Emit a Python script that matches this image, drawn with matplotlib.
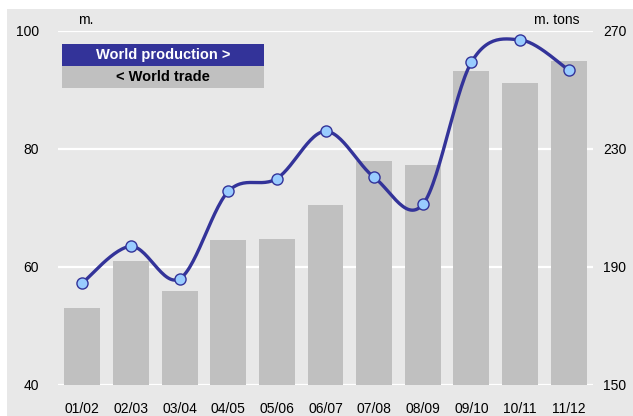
import numpy as np
import matplotlib
matplotlib.use("Agg")
import matplotlib.pyplot as plt
from matplotlib.patches import Rectangle

plt.rcParams['font.family'] = ['Liberation Sans', 'DejaVu Sans']

seasons = ["01/02", "02/03", "03/04", "04/05", "05/06", "06/07",
           "07/08", "08/09", "09/10", "10/11", "11/12"]
world_trade = [176, 192, 182, 199, 199.5, 211, 226, 224.5, 256.5, 252.5, 260]   # m. tons (right axis)
world_production = [57.3, 63.5, 58.0, 72.8, 75.0, 83.0, 75.2, 70.6, 94.7, 98.5, 93.4]  # m. (left axis)
left_ticks = [40, 60, 80, 100]
right_ticks = [150, 190, 230, 270]

W, H = 633, 416
fig = plt.figure(figsize=(W / 100, H / 100), dpi=100)
fig.patch.set_facecolor("white")
bg = "#E8E8E8"
fig.patches.append(Rectangle((7 / W, 0), 1 - 7 / W, 1 - 9 / H, transform=fig.transFigure,
                             facecolor=bg, edgecolor="none", zorder=-10))

left, right = 58 / W, 593 / W
bottom, top = (H - 385) / H, (H - 31) / H
ax = fig.add_axes([left, bottom, right - left, top - bottom])
ax.set_facecolor(bg)
x = np.arange(len(seasons))
ax.bar(x, [v - 150 for v in world_trade], bottom=150, width=0.74, color="#C0C0C0", zorder=2)
ax.set_xlim(-0.5, len(seasons) - 0.5)
ax.set_ylim(150, 270)
ax.set_yticks(right_ticks)
ax.grid(axis="y", color="white", linewidth=1.6, zorder=0)
ax.set_axisbelow(True)
ax.set_xticks(x)
ax.set_xticklabels(seasons)
for s in ax.spines.values():
    s.set_visible(False)

ax2 = ax.twinx()
ax2.set_ylim(40, 100)
ax2.set_yticks(left_ticks)
for s in ax2.spines.values():
    s.set_visible(False)

# bars axis -> right side labels, line axis -> left side labels
ax.yaxis.tick_right()
ax2.yaxis.tick_left()
ax.tick_params(axis="x", length=0, pad=12, labelsize=10, colors="black")
ax.tick_params(axis="y", which="both", length=0, pad=7.5, labelsize=10, colors="black",
               left=False, labelleft=False, right=True, labelright=True)
ax2.tick_params(axis="y", which="both", length=0, pad=13.5, labelsize=10, colors="black",
                left=True, labelleft=True, right=False, labelright=False)

# Smooth (Catmull-Rom) curve through the points, computed in display-proportional units
px = np.array(x, dtype=float) * 48.6
py = np.array(world_production, dtype=float) * 5.885
P = np.column_stack([px, py])
P_ext = np.vstack([P[0], P, P[-1]])
curve = []
for i in range(len(P) - 1):
    p0, p1, p2, p3 = P_ext[i], P_ext[i + 1], P_ext[i + 2], P_ext[i + 3]
    c1 = p1 + (p2 - p0) / 6
    c2 = p2 - (p3 - p1) / 6
    t = np.linspace(0, 1, 30)[:, None]
    seg = (1 - t) ** 3 * p1 + 3 * (1 - t) ** 2 * t * c1 + 3 * (1 - t) * t ** 2 * c2 + t ** 3 * p2
    curve.append(seg if i == 0 else seg[1:])
curve = np.vstack(curve)
ax2.plot(curve[:, 0] / 48.6, curve[:, 1] / 5.885, color="#333399", linewidth=2.4,
         solid_capstyle="round", zorder=3)
ax2.plot(x, world_production, linestyle="none", marker="o", markersize=8,
         markerfacecolor="#99CCFF", markeredgecolor="#333399", markeredgewidth=1.0, zorder=4)

# unit labels
fig.text(78 / W, 1 - 20 / H, "m.", fontsize=10, ha="left", va="center")
fig.text(579 / W, 1 - 20 / H, "m. tons", fontsize=10, ha="right", va="center")

# legend boxes
fig.patches.append(Rectangle((62 / W, 1 - 66 / H), 202 / W, 22 / H, transform=fig.transFigure,
                             facecolor="#333399", edgecolor="none", zorder=5))
fig.patches.append(Rectangle((62 / W, 1 - 88 / H), 202 / W, 22 / H, transform=fig.transFigure,
                             facecolor="#C0C0C0", edgecolor="none", zorder=5))
fig.text(163 / W, 1 - 55 / H, "World production >", fontsize=10.5, fontweight="bold",
         color="white", ha="center", va="center", zorder=6)
fig.text(163 / W, 1 - 77 / H, "< World trade", fontsize=10.5, fontweight="bold",
         color="black", ha="center", va="center", zorder=6)

fig.savefig("out.png", dpi=100, facecolor=fig.get_facecolor())
